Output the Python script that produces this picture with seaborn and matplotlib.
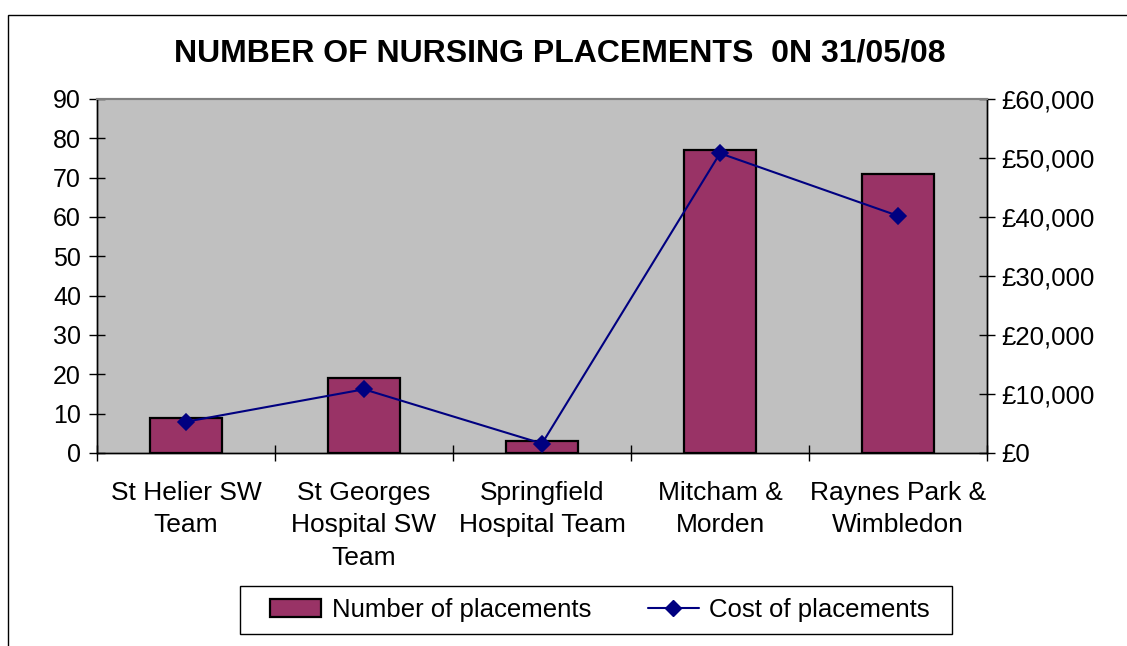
import matplotlib
matplotlib.use("Agg")
import matplotlib.pyplot as plt
import matplotlib.patches as mpatches
from matplotlib.lines import Line2D
from matplotlib.ticker import FuncFormatter, FixedLocator, MultipleLocator
import seaborn as sns
import pandas as pd
import numpy as np

categories = ["St Helier SW\nTeam", "St Georges\nHospital SW\nTeam",
              "Springfield\nHospital Team", "Mitcham &\nMorden",
              "Raynes Park &\nWimbledon"]
placements = [9, 19, 3, 77, 71]
costs = [5300, 10800, 1600, 50800, 40200]
title = "NUMBER OF NURSING PLACEMENTS  0N 31/05/08"

sns.set_theme(style="ticks")
plt.rcParams['font.family'] = ['Liberation Sans', 'DejaVu Sans']
plt.rcParams['text.color'] = 'black'
plt.rcParams['xtick.color'] = 'black'
plt.rcParams['ytick.color'] = 'black'
plt.rcParams['xtick.labelcolor'] = 'black'
plt.rcParams['ytick.labelcolor'] = 'black'

df = pd.DataFrame({"cat": categories, "n": placements, "cost": costs})

fig = plt.figure(figsize=(11.27, 6.46), dpi=100)
fig.patch.set_facecolor("white")
ax = fig.add_axes([97/1127, 1-453/646, (987-97)/1127, (453-99)/646])
ax.set_facecolor("#C0C0C0")

sns.barplot(data=df, x="cat", y="n", ax=ax, color="#993366", width=0.41,
            edgecolor="black", linewidth=1.6, saturation=1)
ax2 = ax.twinx()
sns.pointplot(data=df, x="cat", y="cost", ax=ax2, color="#000080",
              markers="D", linestyles="-", markersize=8.5, linewidth=1.5)

ax.set_xlim(-0.5, 4.5)
ax2.set_xlim(-0.5, 4.5)
ax.set_ylim(0, 90)
ax2.set_ylim(0, 60000)
ax.yaxis.set_major_locator(MultipleLocator(10))
ax2.yaxis.set_major_locator(MultipleLocator(10000))
ax2.yaxis.set_major_formatter(FuncFormatter(lambda v, p: f"£{v:,.0f}"))

ax.set_xlabel("")
ax.set_ylabel("")
ax2.set_ylabel("")
ax2.set_xlabel("")

ax.set_xticks(range(len(categories)))
ax.set_xticklabels(categories, fontsize=19, linespacing=1.45, color="black")
ax.tick_params(axis="x", which="major", length=0, pad=20)
ax.xaxis.set_minor_locator(FixedLocator(np.arange(-0.5, 5.0, 1.0)))
ax.tick_params(axis="x", which="minor", direction="inout", length=11, width=1, color="black")
ax.tick_params(axis="y", direction="inout", length=11, width=1, color="black",
               labelsize=18, pad=6, labelcolor="black")
ax2.tick_params(axis="y", direction="inout", length=11, width=1, color="black",
                labelsize=18.5, pad=5, labelcolor="black")

for a in (ax, ax2):
    for s in ("left", "right", "bottom"):
        a.spines[s].set_color("black")
        a.spines[s].set_linewidth(1)
    a.spines["top"].set_color("#808080")
    a.spines["top"].set_linewidth(1.5)
    a.grid(False)

fig.text(560/1127, 1-53/646, title, ha="center", va="center",
         fontsize=23, fontweight="bold", color="black")

# legend frame
frame = mpatches.Rectangle((240/1127, 1-634/646), (952-240)/1127, 48/646,
                           transform=fig.transFigure, facecolor="white",
                           edgecolor="black", linewidth=1)
fig.patches.append(frame)

handles = [mpatches.Patch(facecolor="#993366", edgecolor="black", linewidth=1.6),
           Line2D([0], [0], color="#000080", marker="D", markersize=8.5, linewidth=1.5)]
labels = ["Number of placements", "Cost of placements"]
leg = fig.legend(handles, labels, loc="center", bbox_to_anchor=(600/1127, 1-610/646),
                 ncol=2, frameon=False, fontsize=18.5, handlelength=2.0,
                 handletextpad=0.4, columnspacing=2.2, borderpad=0.2)
for t in leg.get_texts():
    t.set_color("black")

border = mpatches.Rectangle((8/1127, -0.1), 1.2, 1-15/646 + 0.1, transform=fig.transFigure,
                            fill=False, edgecolor="black", linewidth=1)
fig.patches.append(border)

fig.savefig("out.png", dpi=100)
